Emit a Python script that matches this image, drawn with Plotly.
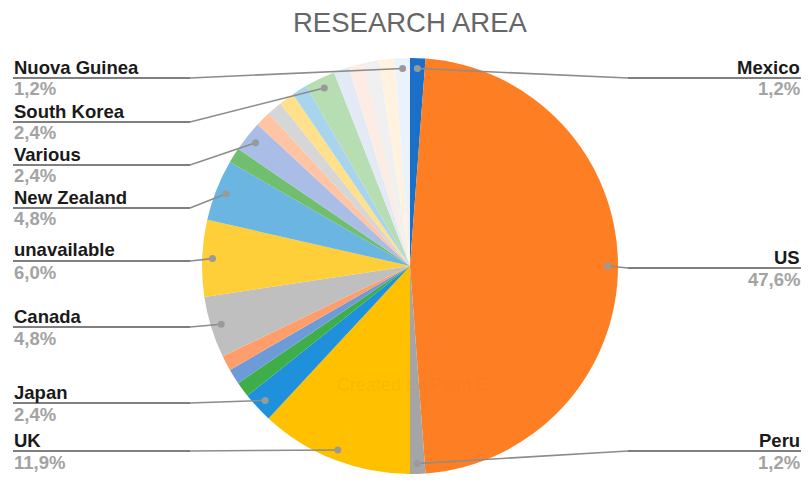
import math
import plotly.graph_objects as go

# ---------------- data ----------------
categories = [
    "Mexico", "US", "Peru", "UK", "Japan", "Other A", "Other B", "Other C",
    "Canada", "unavailable", "New Zealand", "Other D", "Various", "Other E",
    "Other F", "Other G", "Other H", "South Korea", "Other I", "Other J",
    "Other K", "Other L", "Nuova Guinea",
]
counts = [1, 40, 1, 10, 2, 1, 1, 1, 4, 5, 4, 1, 2, 1, 1, 1, 1, 2, 1, 1, 1, 1, 1]
slice_colors = [
    "#1A6FC9", "#FD7E23", "#A5A5A5", "#FFC000", "#1E90DC", "#3DAE49",
    "#6D9BD8", "#FF9E6A", "#BFBFBF", "#FFCF3A", "#6BB5E2", "#70BE6E",
    "#A9BDE6", "#FFC4A4", "#D6D6D6", "#FFE18C", "#A9D4EE", "#B7DDB2",
    "#E4EAF5", "#FDECE3", "#F0F0F0", "#FFF3DF", "#EAF3FB",
]
labelled_left = ["Nuova Guinea", "South Korea", "Various", "New Zealand",
                 "unavailable", "Canada", "Japan", "UK"]
labelled_right = ["Mexico", "US", "Peru"]

# ---------------- layout constants (pixels of the 809x482 page) ----------------
OFF = 8                       # default body margin of the html page
W, H = 809 - 2 * OFF, 482 - 2 * OFF
CX, CY, R = 410, 266, 208
DOT_R = 0.95 * R
left_line_y = {"Nuova Guinea": 78, "South Korea": 122, "Various": 165,
               "New Zealand": 208, "unavailable": 261, "Canada": 327,
               "Japan": 403, "UK": 451}
right_line_y = {"Mexico": 78, "US": 268, "Peru": 451}
LEFT_X0, LEFT_ELBOW = 13, 190
RIGHT_X1, RIGHT_ELBOW = 801, 628
FONT = "Liberation Sans, Arial, sans-serif"
FS = 18.5


def px(x):
    return (x - OFF) / W


def py(y):
    return 1 - (y - OFF) / H


fig = go.Figure(go.Pie(
    labels=categories, values=counts, sort=False, direction="clockwise",
    rotation=0, textinfo="none", hoverinfo="label+percent",
    marker=dict(colors=slice_colors, line=dict(width=0)),
    domain=dict(x=[px(CX - R), px(CX + R)],
                y=[max(0.0, py(CY + R)), min(1.0, py(CY - R))]),
    showlegend=False,
))

total = sum(counts)
shapes, annotations = [], []
cum = 0
for name, v in zip(categories, counts):
    mid = (cum + v / 2) / total * 2 * math.pi
    cum += v
    if name not in labelled_left and name not in labelled_right:
        continue
    dx = CX + DOT_R * math.sin(mid)
    dy = CY - DOT_R * math.cos(mid)
    pct = f"{v / total * 100:.1f}%".replace(".", ",")
    if name in labelled_left:
        ly = left_line_y[name]
        x_start, x_elbow, x_text, anchor = LEFT_X0, LEFT_ELBOW, LEFT_X0, "left"
    else:
        ly = right_line_y[name]
        x_start, x_elbow, x_text, anchor = RIGHT_X1, RIGHT_ELBOW, RIGHT_X1, "right"
    # horizontal underline
    shapes.append(dict(type="line", xref="paper", yref="paper",
                       x0=px(x_start), y0=py(ly), x1=px(x_elbow), y1=py(ly),
                       line=dict(color="#7f7f7f", width=2)))
    # connector to slice
    shapes.append(dict(type="line", xref="paper", yref="paper",
                       x0=px(x_elbow), y0=py(ly), x1=px(dx), y1=py(dy),
                       line=dict(color="#8c8c8c", width=1.6)))
    shapes.append(dict(type="circle", xref="paper", yref="paper",
                       xsizemode="pixel", ysizemode="pixel",
                       xanchor=px(dx), yanchor=py(dy),
                       x0=-3.5, x1=3.5, y0=-3.5, y1=3.5,
                       fillcolor="#9a9a9a", line=dict(width=0)))
    annotations.append(dict(xref="paper", yref="paper", x=px(x_text),
                            y=py(ly - 11), xanchor=anchor, yanchor="middle",
                            text=f"<b>{name}</b>", showarrow=False, borderpad=0,
                            font=dict(family=FONT, size=FS, color="#1a1a1a")))
    annotations.append(dict(xref="paper", yref="paper", x=px(x_text),
                            y=py(ly + 11), xanchor=anchor, yanchor="middle",
                            text=f"<b>{pct}</b>", showarrow=False, borderpad=0,
                            font=dict(family=FONT, size=FS, color="#a3a3a3")))

annotations.append(dict(xref="paper", yref="paper", x=px(410), y=py(23),
                        xanchor="center", yanchor="middle",
                        text="RESEARCH AREA", showarrow=False,
                        font=dict(family=FONT, size=27.5, color="#666666")))
annotations.append(dict(xref="paper", yref="paper", x=px(412), y=py(385),
                        xanchor="center", yanchor="middle",
                        text="Created by Paint S", showarrow=False,
                        font=dict(family=FONT, size=18, color="rgba(230,120,0,0.12)")))

fig.update_layout(
    width=W, height=H, margin=dict(l=0, r=0, t=0, b=0),
    paper_bgcolor="white", plot_bgcolor="white",
    shapes=shapes, annotations=annotations,
)
fig.write_html("out.html")
